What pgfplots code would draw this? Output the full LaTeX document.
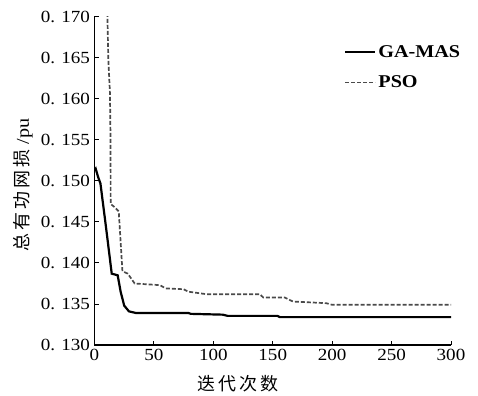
\documentclass[border=0pt]{standalone}
\usepackage{pgfplots}
\pgfplotsset{compat=1.18}
\usepackage{fontspec}
\setmainfont{Liberation Serif}[FakeStretch=1.12]
\newfontfamily\cjk{Noto Sans CJK SC}
\definecolor{psogray}{HTML}{4A4A4A}
\begin{document}
\begin{tikzpicture}
\begin{axis}[
  name=ax,
  scale only axis, width=356.5pt, height=328pt,
  xmin=0, xmax=300, ymin=0.130, ymax=0.170,
  axis x line*=bottom, axis y line*=left,
  axis line style={line width=1.3pt, black, -},
  tick style={line width=1pt, black},
  tick align=inside, major tick length=4pt,
  xtick={0,50,100,150,200,250,300},
  xticklabels={0,50,100,150,200,250,300},
  ytick={0.130,0.135,0.140,0.145,0.150,0.155,0.160,0.165,0.170},
  yticklabels={0. 130,0. 135,0. 140,0. 145,0. 150,0. 155,0. 160,0. 165,0. 170},
  ticklabel style={font=\fontsize{17}{18}\selectfont},
  xticklabel style={yshift=-1pt},
  yticklabel style={xshift=-1pt},
  xlabel={\cjk 迭\kern3pt 代\kern3pt 次\kern3pt 数},
  ylabel={\cjk 总\kern3pt 有\kern3pt 功\kern3pt 网\kern3pt 损\kern5pt\rmfamily /pu},
  xlabel style={at={(axis description cs:0.4025,-0.118)}, anchor=center, font=\fontsize{18}{19}\selectfont},
  ylabel style={at={(axis description cs:-0.200,0.488)}, anchor=center, rotate=0, font=\fontsize{18}{19}\selectfont},
  legend style={draw=none, fill=none, at={(0.70,0.92)}, anchor=north west, inner sep=0pt,
    font=\fontsize{18}{20}\selectfont\bfseries, row sep=13pt, cells={anchor=west}},
  legend image code/.code={\draw[#1] (0pt,0pt) -- (30pt,0pt);},
  clip=true,
]
\addplot[black, line width=2.2pt] coordinates {
(0,0.1513) (1,0.1515) (3,0.1505) (5,0.1497) (10,0.1440) (14.5,0.1387) (19.5,0.1385)
(22,0.1365) (25,0.1348) (29,0.1341) (35,0.1339) (79,0.1339) (81,0.1338) (108,0.1337)
(112,0.13355) (154,0.13355) (156,0.1334) (300,0.1334)
};
\addlegendentry{GA-MAS}
\addplot[psogray, line width=1.7pt, dash pattern=on 4pt off 2pt] coordinates {
(10.8,0.1705) (11.6,0.1650) (13,0.1607) (13.5,0.1550) (13.6,0.1472) (17,0.1468)
(20.4,0.1463) (23.5,0.1390) (28,0.1387) (33.8,0.1375) (55,0.1373) (60,0.1369)
(75,0.1368) (79,0.1365) (94,0.1362) (139,0.1362) (142,0.1358) (160,0.1358)
(167,0.1353) (195,0.1351) (200,0.1349) (300,0.1349)
};
\addlegendentry{PSO}
\end{axis}
\path ([shift={(-94.5pt,-47pt)}]ax.south west) rectangle ([shift={(27pt,17pt)}]ax.north east);
\end{tikzpicture}
\end{document}
